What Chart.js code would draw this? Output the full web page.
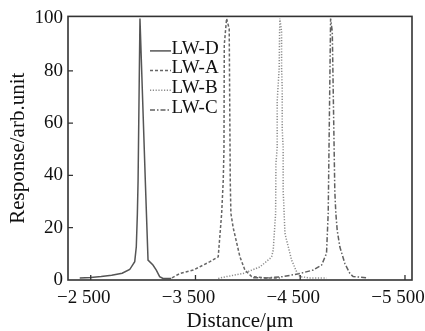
<!DOCTYPE html>
<html>
<head>
<meta charset="utf-8">
<script src="https://cdn.jsdelivr.net/npm/chart.js@4.4.0/dist/chart.umd.min.js"></script>
<style>
html, body { margin: 0; padding: 0; background: #fff; }
#wrap { width: 425px; height: 331px; }
</style>
</head>
<body>
<div id="wrap"><canvas id="myChart" width="425" height="331"></canvas></div>
<script>
var seriesNames = ["LW-D", "LW-A", "LW-B", "LW-C"];
var xTicks = [-2500, -3500, -4500, -5500];
var yTicks = [0, 20, 40, 60, 80, 100];

// distance (um) / response pairs
var lwD_x = [-2395, -2500, -2600, -2700, -2800, -2872, -2920, -2935, -2945, -2952, -2970, -3021, -3047, -3094, -3126, -3158, -3190, -3269];
var lwD_y = [0.8, 1.0, 1.3, 1.8, 2.6, 4.0, 7.0, 12.7, 25, 38, 100, 38, 7.6, 5.7, 3.8, 1.3, 0.6, 0.6];

var lwA_x = [-3276, -3352, -3479, -3638, -3717, -3750, -3765, -3772, -3775, -3797, -3822, -3832, -3838, -3860, -3924, -3972, -4036, -4163, -4306];
var lwA_y = [0.8, 2.5, 3.8, 7.0, 8.9, 25.5, 38, 50, 90, 100, 96, 38, 25.5, 20, 8.9, 3.8, 1.3, 0.8, 0.8];

var lwB_x = [-3717, -3797, -3956, -4115, -4211, -4227, -4242, -4265, -4268, -4280, -4280, -4299, -4303, -4306, -4322, -4322, -4328, -4328, -4337, -4337, -4344, -4354, -4370, -4418, -4465, -4497, -4592, -4751];
var lwB_y = [0.6, 1.3, 2.5, 5.0, 8.2, 8.9, 11.4, 25.5, 44.5, 50.6, 68.4, 81, 95, 100, 95, 81, 73.4, 57.8, 50.6, 34.2, 27.8, 17.9, 15.2, 7.6, 3.2, 1.3, 0.8, 0.8];

var lwC_x = [-4051, -4179, -4337, -4497, -4624, -4704, -4751, -4767, -4790, -4806, -4830, -4840, -4853, -4878, -4926, -4974, -5005, -5148];
var lwC_y = [0.9, 0.8, 1.3, 2.5, 3.8, 5.7, 10.2, 25.5, 100, 95, 34, 25.5, 19, 12.7, 6.3, 2.5, 1.3, 0.8];

var lineColors = ["#555555", "#666666", "#8c8c8c", "#606060"];
var lineDashes = [[], [3, 2], [1.2, 1.6], [5, 2, 1.5, 2]];

function toPoints(xs, ys) {
    var pts = [];
    for (var i = 0; i < xs.length; i++) {
        pts.push({ x: xs[i], y: ys[i] });
    }
    return pts;
}

function distLabel(v) {
    var a = Math.abs(v);
    var rest = String(a % 1000);
    while (rest.length < 3) rest = "0" + rest;
    return (v < 0 ? "\u2212" : "") + Math.floor(a / 1000) + " " + rest;
}

var serif = "'Liberation Serif', 'Times New Roman', serif";

// box round the plot, inward ticks, legend with line samples
var framePlugin = {
    id: "frame",
    afterDraw: function(chart) {
        var ctx = chart.ctx;
        var a = chart.chartArea;
        var xs = chart.scales.x;
        var ys = chart.scales.y;
        ctx.save();
        ctx.strokeStyle = "#333";
        ctx.lineWidth = 1.6;
        ctx.setLineDash([]);
        ctx.strokeRect(a.left, a.top, a.right - a.left, a.bottom - a.top);

        ctx.lineWidth = 1.3;
        ctx.beginPath();
        for (var i = 0; i < xTicks.length; i++) {
            var px = xs.getPixelForValue(xTicks[i]);
            ctx.moveTo(px, a.bottom);
            ctx.lineTo(px, a.bottom - 5);
        }
        for (var j = 1; j < yTicks.length - 1; j++) {
            var py = ys.getPixelForValue(yTicks[j]);
            ctx.moveTo(a.left, py);
            ctx.lineTo(a.left + 5, py);
        }
        ctx.stroke();

        var lx = a.left + 82;
        var ly = a.top + 34.5;
        ctx.font = "19px " + serif;
        ctx.textBaseline = "middle";
        ctx.textAlign = "left";
        ctx.fillStyle = "#111";
        chart.data.datasets.forEach(function(ds, k) {
            var y = ly + k * 19.7;
            ctx.strokeStyle = ds.borderColor;
            ctx.lineWidth = 1.5;
            ctx.setLineDash(ds.borderDash || []);
            ctx.beginPath();
            ctx.moveTo(lx, y);
            ctx.lineTo(lx + 21, y);
            ctx.stroke();
            ctx.fillText(ds.label, lx + 21.5, y - 2.3);
        });
        ctx.restore();
    }
};

var allX = [lwD_x, lwA_x, lwB_x, lwC_x];
var allY = [lwD_y, lwA_y, lwB_y, lwC_y];
var datasets = [];
for (var s = 0; s < seriesNames.length; s++) {
    datasets.push({
        label: seriesNames[s],
        data: toPoints(allX[s], allY[s]),
        borderColor: lineColors[s],
        borderDash: lineDashes[s],
        borderWidth: 1.5,
        pointRadius: 0,
        tension: 0,
        fill: false
    });
}

var ctx = document.getElementById("myChart").getContext("2d");
var myChart = new Chart(ctx, {
    type: "line",
    data: { datasets: datasets },
    plugins: [framePlugin],
    options: {
        responsive: false,
        animation: false,
        devicePixelRatio: 1,
        layout: { padding: { top: 15, right: 13, left: 0, bottom: 0 } },
        plugins: {
            legend: { display: false },
            tooltip: { enabled: false }
        },
        scales: {
            x: {
                type: "linear",
                reverse: true,
                min: -5567,
                max: -2283,
                afterBuildTicks: function(scale) {
                    scale.ticks = xTicks.map(function(v) { return { value: v }; });
                },
                afterFit: function(scale) {
                    scale.height = 51;
                    scale.paddingLeft = 0;
                    scale.paddingRight = 0;
                },
                grid: { display: false, drawTicks: false },
                border: { display: false },
                ticks: {
                    autoSkip: false,
                    maxRotation: 0,
                    padding: 7,
                    labelOffset: -7,
                    color: "#111",
                    font: { family: serif, size: 19 },
                    callback: function(v) { return distLabel(v); }
                },
                title: {
                    display: true,
                    text: "Distance/\u03bcm",
                    color: "#111",
                    font: { family: serif, size: 21, lineHeight: 0.86 },
                    padding: { top: 0, bottom: 0 }
                }
            },
            y: {
                min: 0,
                max: 100.8,
                afterBuildTicks: function(scale) {
                    scale.ticks = yTicks.map(function(v) { return { value: v }; });
                },
                afterFit: function(scale) {
                    scale.width = 68;
                },
                grid: { display: false, drawTicks: false },
                border: { display: false },
                ticks: {
                    padding: 5,
                    color: "#111",
                    font: { family: serif, size: 19 }
                },
                title: {
                    display: true,
                    text: "Response/arb.unit",
                    color: "#111",
                    font: { family: serif, size: 21 },
                    padding: { top: 6, bottom: 0 }
                }
            }
        }
    }
});
</script>
</body>
</html>
